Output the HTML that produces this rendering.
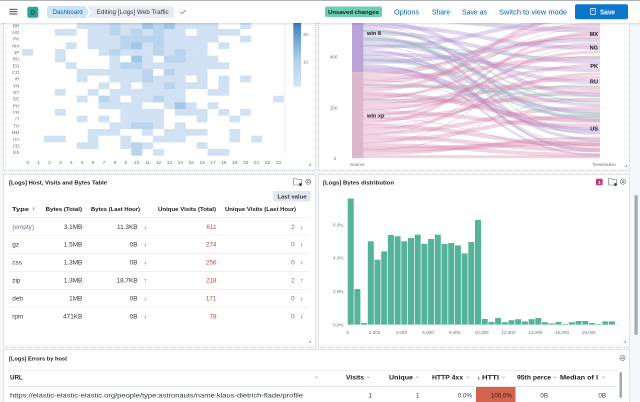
<!DOCTYPE html>
<html><head><meta charset="utf-8"><style>
html,body{margin:0;padding:0;background:#f5f7fa;}
svg{display:block;font-family:"Liberation Sans",sans-serif;}
</style></head><body>
<svg width="640" height="402" viewBox="0 0 640 402" xmlns="http://www.w3.org/2000/svg">
<defs>
<linearGradient id="leg" x1="0" y1="0" x2="0" y2="1">
<stop offset="0" stop-color="#2f70b2"/><stop offset="0.25" stop-color="#6a9fd0"/><stop offset="0.6" stop-color="#b3d0ea"/><stop offset="1" stop-color="#d4e5f4"/>
</linearGradient>
<linearGradient id="sh" x1="0" y1="0" x2="0" y2="1"><stop offset="0" stop-color="#000" stop-opacity="0.12"/><stop offset="1" stop-color="#000" stop-opacity="0"/></linearGradient>
<clipPath id="sk"><rect x="363" y="10" width="237" height="148.5"/></clipPath>
</defs>
<rect width="640" height="402" fill="#f5f7fa"/>
<!-- panels -->
<rect x="3.5" y="-5" width="312" height="175.5" fill="#fff" stroke="#c5cad3" stroke-dasharray="1,1"/>
<rect x="318.5" y="-5" width="311" height="175.5" fill="#fff" stroke="#c5cad3" stroke-dasharray="1,1"/>
<rect x="3.5" y="174.5" width="312" height="172.5" fill="#fff" stroke="#c5cad3" stroke-dasharray="1,1"/>
<rect x="318.5" y="174.5" width="311" height="172.5" fill="#fff" stroke="#c5cad3" stroke-dasharray="1,1"/>
<rect x="3.5" y="349.5" width="626" height="60" fill="#fff" stroke="#c5cad3" stroke-dasharray="1,1"/>

<!-- HEATMAP -->
<g fill="#cfe1f2">
<rect x="76.7" y="22.3" width="141.7" height="6.7"/><rect x="240.2" y="22.3" width="10.9" height="6.7"/>
<rect x="54.9" y="29" width="21.8" height="6.7"/><rect x="87.6" y="29" width="98.1" height="6.7"/><rect x="196.6" y="29" width="43.6" height="6.7"/>
<rect x="87.6" y="35.7" width="130.8" height="6.7"/><rect x="240.2" y="35.7" width="10.9" height="6.7"/>
<rect x="65.8" y="42.3" width="10.9" height="6.7"/><rect x="87.6" y="42.3" width="119.9" height="6.7"/><rect x="218.4" y="42.3" width="10.9" height="6.7"/>
<rect x="22.2" y="49" width="10.9" height="6.7"/><rect x="54.9" y="49" width="10.9" height="6.7"/><rect x="98.5" y="49" width="109" height="6.7"/>
<rect x="54.9" y="55.7" width="10.9" height="6.7"/><rect x="109.4" y="55.7" width="10.9" height="6.7"/><rect x="131.2" y="55.7" width="21.8" height="6.7"/><rect x="163.9" y="55.7" width="54.5" height="6.7"/>
<rect x="65.8" y="62.3" width="10.9" height="6.7"/><rect x="109.4" y="62.3" width="119.9" height="6.7"/>
<rect x="76.7" y="69" width="76.3" height="6.7"/><rect x="163.9" y="69" width="43.6" height="6.7"/>
<rect x="76.7" y="75.7" width="10.9" height="6.7"/><rect x="109.4" y="75.7" width="76.3" height="6.7"/><rect x="196.6" y="75.7" width="10.9" height="6.7"/><rect x="218.4" y="75.7" width="10.9" height="6.7"/><rect x="240.2" y="75.7" width="10.9" height="6.7"/>
<rect x="98.5" y="82.3" width="10.9" height="6.7"/><rect x="120.3" y="82.3" width="10.9" height="6.7"/><rect x="142.1" y="82.3" width="65.4" height="6.7"/><rect x="218.4" y="82.3" width="10.9" height="6.7"/>
<rect x="54.9" y="89" width="10.9" height="6.7"/><rect x="87.6" y="89" width="10.9" height="6.7"/><rect x="109.4" y="89" width="76.3" height="6.7"/><rect x="207.5" y="89" width="21.8" height="6.7"/>
<rect x="76.7" y="95.7" width="10.9" height="6.7"/><rect x="98.5" y="95.7" width="21.8" height="6.7"/><rect x="131.2" y="95.7" width="54.5" height="6.7"/><rect x="272.9" y="95.7" width="10.9" height="6.7"/>
<rect x="98.5" y="102.3" width="43.6" height="6.7"/><rect x="163.9" y="102.3" width="32.7" height="6.7"/><rect x="207.5" y="102.3" width="10.9" height="6.7"/>
<rect x="54.9" y="109" width="10.9" height="6.7"/><rect x="120.3" y="109" width="43.6" height="6.7"/><rect x="174.8" y="109" width="32.7" height="6.7"/><rect x="218.4" y="109" width="10.9" height="6.7"/><rect x="240.2" y="109" width="10.9" height="6.7"/>
<rect x="76.7" y="115.7" width="10.9" height="6.7"/><rect x="98.5" y="115.7" width="10.9" height="6.7"/><rect x="120.3" y="115.7" width="43.6" height="6.7"/><rect x="196.6" y="115.7" width="10.9" height="6.7"/><rect x="229.3" y="115.7" width="10.9" height="6.7"/>
<rect x="109.4" y="122.3" width="54.5" height="6.7"/><rect x="174.8" y="122.3" width="10.9" height="6.7"/>
<rect x="87.6" y="129" width="32.7" height="6.7"/><rect x="142.1" y="129" width="10.9" height="6.7"/><rect x="163.9" y="129" width="43.6" height="6.7"/><rect x="229.3" y="129" width="10.9" height="6.7"/>
<rect x="44" y="135.7" width="21.8" height="6.7"/><rect x="87.6" y="135.7" width="10.9" height="6.7"/><rect x="120.3" y="135.7" width="10.9" height="6.7"/><rect x="153" y="135.7" width="32.7" height="6.7"/><rect x="229.3" y="135.7" width="10.9" height="6.7"/><rect x="251.1" y="135.7" width="10.9" height="6.7"/>
<rect x="76.7" y="142.3" width="21.8" height="6.7"/><rect x="120.3" y="142.3" width="32.7" height="6.7"/><rect x="196.6" y="142.3" width="10.9" height="6.7"/>
<rect x="131.2" y="149" width="10.9" height="6.7"/><rect x="153" y="149" width="10.9" height="6.7"/><rect x="207.5" y="149" width="21.8" height="6.7"/>
</g>
<g fill="#bad4ed">
<rect x="109.4" y="22.3" width="10.9" height="6.7"/><rect x="153" y="22.3" width="10.9" height="6.7"/>
<rect x="109.4" y="29" width="10.9" height="6.7"/><rect x="131.2" y="29" width="10.9" height="6.7"/><rect x="153" y="29" width="10.9" height="6.7"/>
<rect x="120.3" y="35.7" width="43.6" height="6.7"/>
<rect x="120.3" y="42.3" width="10.9" height="6.7"/><rect x="153" y="42.3" width="10.9" height="6.7"/>
<rect x="109.4" y="49" width="10.9" height="6.7"/><rect x="153" y="49" width="10.9" height="6.7"/><rect x="174.8" y="49" width="10.9" height="6.7"/>
<rect x="163.9" y="55.7" width="21.8" height="6.7"/>
<rect x="120.3" y="62.3" width="21.8" height="6.7"/>
<rect x="142.1" y="69" width="10.9" height="6.7"/><rect x="163.9" y="69" width="10.9" height="6.7"/>
<rect x="142.1" y="75.7" width="10.9" height="6.7"/>
<rect x="163.9" y="82.3" width="10.9" height="6.7"/>
<rect x="98.5" y="95.7" width="10.9" height="6.7"/><rect x="153" y="95.7" width="10.9" height="6.7"/>
<rect x="131.2" y="122.3" width="21.8" height="6.7"/>
<rect x="131.2" y="142.3" width="10.9" height="6.7"/>
<rect x="131.2" y="149" width="10.9" height="6.7"/>
</g>
<g fill="#a2c6e6">
<rect x="142.1" y="22.3" width="10.9" height="6.7"/><rect x="163.9" y="22.3" width="10.9" height="6.7"/>
<rect x="131.2" y="42.3" width="10.9" height="6.7"/>
<rect x="131.2" y="55.7" width="10.9" height="6.7"/>
<rect x="174.8" y="102.3" width="10.9" height="6.7"/>
</g>
<line x1="284.3" y1="22" x2="284.3" y2="156" stroke="#e6e9ef" stroke-width="0.6"/>
<rect x="293.3" y="20" width="7.8" height="66.7" fill="url(#leg)"/>
<g font-size="4.6" fill="#6a717d">
<text x="303" y="35.8">20</text><text x="303" y="63.3">10</text>
</g>
<g font-size="4.8" fill="#6a717d" text-anchor="end">
<text x="19.5" y="27.3">BR</text><text x="19.5" y="34">NG</text><text x="19.5" y="40.7">PK</text><text x="19.5" y="47.3">MX</text><text x="19.5" y="54">JP</text><text x="19.5" y="60.7">RU</text><text x="19.5" y="67.3">EG</text><text x="19.5" y="74">CO</text><text x="19.5" y="80.7">IR</text><text x="19.5" y="87.3">VN</text><text x="19.5" y="94">ET</text><text x="19.5" y="100.7">DE</text><text x="19.5" y="107.3">PH</text><text x="19.5" y="114">FR</text><text x="19.5" y="120.7">IT</text><text x="19.5" y="127.3">TH</text><text x="19.5" y="134">MM</text><text x="19.5" y="140.7">UA</text><text x="19.5" y="147.3">CD</text><text x="19.5" y="154">ES</text>
</g>
<g font-size="4.8" fill="#6a717d" text-anchor="middle">
<text x="27.7" y="163.8">0</text><text x="38.6" y="163.8">1</text><text x="49.5" y="163.8">2</text><text x="60.4" y="163.8">3</text><text x="71.3" y="163.8">4</text><text x="82.2" y="163.8">5</text><text x="93.1" y="163.8">6</text><text x="104" y="163.8">7</text><text x="114.9" y="163.8">8</text><text x="125.8" y="163.8">9</text><text x="136.7" y="163.8">10</text><text x="147.6" y="163.8">11</text><text x="158.5" y="163.8">12</text><text x="169.4" y="163.8">13</text><text x="180.3" y="163.8">14</text><text x="191.2" y="163.8">15</text><text x="202.1" y="163.8">16</text><text x="213" y="163.8">17</text><text x="223.9" y="163.8">18</text><text x="234.8" y="163.8">19</text><text x="245.7" y="163.8">20</text><text x="256.6" y="163.8">21</text><text x="267.5" y="163.8">22</text><text x="278.4" y="163.8">23</text>
</g>
<path d="M308.5 165.5 L310.5 165.5 L310.5 163.5" stroke="#69707d" stroke-width="0.6" fill="none"/>

<!-- SANKEY -->
<g clip-path="url(#sk)" fill="none">
<g stroke="#a88fd2" stroke-opacity="0.36">
<path d="M363 17.5 C481 17.5 481 30 600 30" stroke-width="5"/>
<path d="M363 22 C481 22 481 95 600 95" stroke-width="4"/>
<path d="M363 26 C481 26 481 48 600 48" stroke-width="4"/>
<path d="M363 29.5 C481 29.5 481 120 600 120" stroke-width="3"/>
<path d="M363 33 C481 33 481 62 600 62" stroke-width="4"/>
<path d="M363 36.5 C481 36.5 481 140 600 140" stroke-width="3"/>
<path d="M363 40 C481 40 481 82 600 82" stroke-width="4"/>
<path d="M363 43.5 C481 43.5 481 105 600 105" stroke-width="3"/>
<path d="M363 47 C481 47 481 20 600 20" stroke-width="4"/>
<path d="M363 50.5 C481 50.5 481 150 600 150" stroke-width="3"/>
<path d="M363 54 C481 54 481 70 600 70" stroke-width="4"/>
<path d="M363 58 C481 58 481 112 600 112" stroke-width="4"/>
<path d="M363 62 C481 62 481 40 600 40" stroke-width="4"/>
<path d="M363 65 C481 65 481 155 600 155" stroke-width="2"/>
<path d="M363 69 C481 69 481 131 600 131" stroke-width="6" stroke-opacity="0.45"/>
</g>
<g stroke="#d888ae" stroke-opacity="0.36">
<path d="M363 74 C481 74 481 25 600 25" stroke-width="4"/>
<path d="M363 78 C481 78 481 58 600 58" stroke-width="4"/>
<path d="M363 82 C481 82 481 36 600 36" stroke-width="4"/>
<path d="M363 86 C481 86 481 88 600 88" stroke-width="4"/>
<path d="M363 90 C481 90 481 15 600 15" stroke-width="4"/>
<path d="M363 94 C481 94 481 121 600 121" stroke-width="4" stroke-opacity="0.45"/>
<path d="M363 97.5 C481 97.5 481 44 600 44" stroke-width="3"/>
<path d="M363 101 C481 101 481 100 600 100" stroke-width="4"/>
<path d="M363 104.5 C481 104.5 481 66 600 66" stroke-width="3"/>
<path d="M363 108 C481 108 481 78 600 78" stroke-width="4"/>
<path d="M363 112 C481 112 481 126 600 126" stroke-width="4"/>
<path d="M363 115.5 C481 115.5 481 52 600 52" stroke-width="3"/>
<path d="M363 119 C481 119 481 92 600 92" stroke-width="4"/>
<path d="M363 122.5 C481 122.5 481 33 600 33" stroke-width="3"/>
<path d="M363 126 C481 126 481 145 600 145" stroke-width="4"/>
<path d="M363 129.5 C481 129.5 481 74 600 74" stroke-width="3"/>
<path d="M363 133 C481 133 481 108 600 108" stroke-width="4"/>
<path d="M363 137 C481 137 481 150 600 150" stroke-width="4"/>
<path d="M363 141 C481 141 481 116 600 116" stroke-width="4"/>
<path d="M363 145 C481 145 481 155 600 155" stroke-width="4"/>
<path d="M363 149.5 C481 149.5 481 143 600 143" stroke-width="5" stroke-opacity="0.45"/>
<path d="M363 153.5 C481 153.5 481 138 600 138" stroke-width="3"/>
<path d="M363 156.5 C481 156.5 481 157 600 157" stroke-width="3"/>
</g>
<g stroke="#7fc2b4" stroke-opacity="0.34">
<path d="M363 39 C481 39 481 114 600 114" stroke-width="3"/>
<path d="M363 31 C481 31 481 102 600 102" stroke-width="2"/>
<path d="M363 85 C481 85 481 96 600 96" stroke-width="2"/>
<path d="M363 60 C481 60 481 117 600 117" stroke-width="3"/>
<path d="M363 100 C481 100 481 86 600 86" stroke-width="1.5"/>
<path d="M363 46 C481 46 481 58 600 58" stroke-width="1.5"/>
</g>
<g stroke="#c27fa2" stroke-opacity="0.45" stroke-width="0.6">
<path d="M363 25 C481 25 481 135 600 135"/>
<path d="M363 45 C481 45 481 152 600 152"/>
<path d="M363 80 C481 80 481 130 600 130"/>
<path d="M363 99 C481 99 481 28 600 28"/>
<path d="M363 110 C481 110 481 56 600 56"/>
<path d="M363 125 C481 125 481 84 600 84"/>
<path d="M363 135 C481 135 481 46 600 46"/>
<path d="M363 143 C481 143 481 64 600 64"/>
<path d="M363 150 C481 150 481 98 600 98"/>
<path d="M363 55 C481 55 481 146 600 146"/>
<path d="M363 70 C481 70 481 38 600 38"/>
<path d="M363 118 C481 118 481 148 600 148"/>
</g>
</g>
<rect x="352" y="10" width="11.3" height="62.3" fill="#b9a4d6"/>
<rect x="352" y="72.3" width="11.3" height="86" fill="#dcb6ca"/>
<g font-size="5.6" font-weight="bold" fill="#1a1c21">
<text x="367" y="35.2">win 8</text><text x="367" y="117.3">win xp</text>
</g>
<g font-size="5.6" font-weight="bold" fill="#1a1c21" text-anchor="end">
<text x="598" y="36">MX</text><text x="598" y="49.3">NG</text><text x="598" y="68">PK</text><text x="598" y="83.7">RU</text><text x="598" y="130.3">US</text>
</g>
<g font-size="4.6" fill="#6a717d">
<text x="337.5" y="58.3" text-anchor="end">400</text><text x="337.5" y="109.3" text-anchor="end">200</text><text x="336" y="160" text-anchor="end">0</text>
<text x="350" y="166">Source</text><text x="593" y="166">Destination</text>
</g>
<path d="M624.5 166.5 L626.5 166.5 L626.5 164.5" stroke="#69707d" stroke-width="0.6" fill="none"/>

<!-- TABLE PANEL -->
<text x="9" y="184.3" font-size="5.8" font-weight="bold" fill="#1a1c21" textLength="98" lengthAdjust="spacingAndGlyphs">[Logs] Host, Visits and Bytes Table</text>
<g fill="none" stroke="#69707d" stroke-width="0.6">
<path d="M293.5 178.5 h3 l1 1 h4 v5.5 h-8 z"/><circle cx="300.5" cy="184.5" r="1.3" fill="#343741"/>
<circle cx="308.3" cy="181.7" r="2.6"/><circle cx="308.3" cy="181.7" r="1"/>
</g>
<rect x="273" y="191" width="37.5" height="10.5" rx="2" fill="#e0e5ee"/>
<text x="277.5" y="198.3" font-size="5.4" font-weight="bold" fill="#343741" textLength="29" lengthAdjust="spacingAndGlyphs">Last value</text>
<g font-size="5.6" font-weight="bold" fill="#1a1c21">
<text x="12" y="211" textLength="17" lengthAdjust="spacingAndGlyphs">Type</text>
<text x="31.5" y="211" font-weight="normal" fill="#69707d" font-family="DejaVu Sans, sans-serif" font-size="5">↑</text>
<text x="45.7" y="211" textLength="36.3" lengthAdjust="spacingAndGlyphs">Bytes (Total)</text>
<text x="91" y="211" textLength="49" lengthAdjust="spacingAndGlyphs">Bytes (Last Hour)</text>
<text x="158" y="211" textLength="58" lengthAdjust="spacingAndGlyphs">Unique Visits (Total)</text>
<text x="225" y="211" textLength="71" lengthAdjust="spacingAndGlyphs">Unique Visits (Last Hour)</text>
</g>
<g stroke="#e3e8f2" stroke-width="0.7">
<line x1="9" y1="217.7" x2="309" y2="217.7"/><line x1="9" y1="235.3" x2="309" y2="235.3"/><line x1="9" y1="253.3" x2="309" y2="253.3"/><line x1="9" y1="271.3" x2="309" y2="271.3"/><line x1="9" y1="289.3" x2="309" y2="289.3"/><line x1="9" y1="307" x2="309" y2="307"/>
</g>
<g font-size="6.4" fill="#343741">
<text x="12.3" y="229" fill="#69707d">(empty)</text><text x="12.3" y="246.6">gz</text><text x="12.3" y="264.6">css</text><text x="12.3" y="282.6">zip</text><text x="12.3" y="300.3">deb</text><text x="12.3" y="318.3">rpm</text>
</g>
<g font-size="6.4" fill="#343741" text-anchor="end">
<text x="82.3" y="229">3.1MB</text><text x="82.3" y="246.6">1.5MB</text><text x="82.3" y="264.6">1.3MB</text><text x="82.3" y="282.6">1.3MB</text><text x="82.3" y="300.3">1MB</text><text x="82.3" y="318.3">471KB</text>
<text x="137.5" y="229">11.3KB</text><text x="137.5" y="246.6">0B</text><text x="137.5" y="264.6">0B</text><text x="137.5" y="282.6">18.7KB</text><text x="137.5" y="300.3">0B</text><text x="137.5" y="318.3">0B</text>
</g>
<g font-size="6.4" fill="#a9533f" text-anchor="end">
<text x="216.5" y="229">611</text><text x="216.5" y="246.6">274</text><text x="216.5" y="264.6">256</text><text x="216.5" y="282.6">218</text><text x="216.5" y="300.3">171</text><text x="216.5" y="318.3">78</text>
<text x="294.7" y="229">2</text><text x="294.7" y="246.6">0</text><text x="294.7" y="264.6">0</text><text x="294.7" y="282.6">2</text><text x="294.7" y="300.3">0</text><text x="294.7" y="318.3">0</text>
</g>
<g font-size="5" fill="#8a919c" font-family="DejaVu Sans, sans-serif">
<text x="143" y="229">↓</text><text x="143" y="246.6">↓</text><text x="143" y="264.6">↓</text><text x="143" y="282.6">↑</text><text x="143" y="300.3">↓</text><text x="143" y="318.3">↓</text>
<text x="299.5" y="229">↓</text><text x="299.5" y="246.6">↓</text><text x="299.5" y="264.6">↓</text><text x="299.5" y="282.6">↑</text><text x="299.5" y="300.3">↓</text><text x="299.5" y="318.3">↓</text>
</g>
<path d="M308.5 342.5 L310.5 342.5 L310.5 340.5" stroke="#69707d" stroke-width="0.6" fill="none"/>

<!-- HISTOGRAM PANEL -->
<text x="323" y="184.3" font-size="5.8" font-weight="bold" fill="#1a1c21" textLength="71" lengthAdjust="spacingAndGlyphs">[Logs] Bytes distribution</text>
<rect x="596" y="178.7" width="6.6" height="6.6" rx="1" fill="#c13a73"/>
<text x="599.3" y="184" font-size="4.8" font-weight="bold" fill="#fff" text-anchor="middle">1</text>
<g fill="none" stroke="#69707d" stroke-width="0.6">
<path d="M608.5 178.5 h3 l1 1 h4 v5.5 h-8 z"/><circle cx="615.5" cy="184.5" r="1.3" fill="#343741"/>
<circle cx="623" cy="181.7" r="2.6"/><circle cx="623" cy="181.7" r="1"/>
</g>
<rect x="634.5" y="195" width="3.2" height="140" rx="1.6" fill="#a2a9b5"/>
<g stroke="#eceff4" stroke-width="0.5" stroke-dasharray="1,3">
<line x1="401.3" y1="200" x2="401.3" y2="324"/><line x1="454.8" y1="200" x2="454.8" y2="324"/><line x1="535.2" y1="200" x2="535.2" y2="324"/><line x1="588.8" y1="200" x2="588.8" y2="324"/>
</g>
<g fill="#54b399">
<rect x="347.7" y="198.5" width="6" height="126.2"/>
<rect x="354.4" y="289" width="6" height="35.7"/>
<rect x="361.1" y="323" width="6" height="1.7"/>
<rect x="367.8" y="241.3" width="6" height="83.4"/>
<rect x="374.5" y="259.7" width="6" height="65"/>
<rect x="381.2" y="251.4" width="6" height="73.3"/>
<rect x="387.9" y="235" width="6" height="89.7"/>
<rect x="394.6" y="236.3" width="6" height="88.4"/>
<rect x="401.3" y="241.3" width="6" height="83.4"/>
<rect x="408" y="238" width="6" height="86.7"/>
<rect x="414.7" y="234.7" width="6" height="90"/>
<rect x="421.4" y="244" width="6" height="80.7"/>
<rect x="428.1" y="239" width="6" height="85.7"/>
<rect x="434.8" y="234.7" width="6" height="90"/>
<rect x="441.5" y="244" width="6" height="80.7"/>
<rect x="448.2" y="243" width="6" height="81.7"/>
<rect x="454.9" y="245.4" width="6" height="79.3"/>
<rect x="461.6" y="253.4" width="6" height="71.3"/>
<rect x="468.3" y="242" width="6" height="82.7"/>
<rect x="475" y="220" width="6" height="104.7"/>
<rect x="481.7" y="319" width="6" height="5.7"/>
<rect x="488.4" y="321.9" width="6" height="2.8"/>
<rect x="495.1" y="318" width="6" height="6.7"/>
<rect x="501.8" y="322.2" width="6" height="2.5"/>
<rect x="508.5" y="320.2" width="6" height="4.5"/>
<rect x="515.2" y="319.2" width="6" height="5.5"/>
<rect x="521.9" y="321.4" width="6" height="3.3"/>
<rect x="528.6" y="319.2" width="6" height="5.5"/>
<rect x="535.3" y="318" width="6" height="6.7"/>
<rect x="542" y="322.2" width="6" height="2.5"/>
<rect x="548.7" y="323.4" width="6" height="1.3"/>
<rect x="555.4" y="321.9" width="6" height="2.8"/>
<rect x="562.1" y="324" width="6" height="0.7"/>
<rect x="568.8" y="322.2" width="6" height="2.5"/>
<rect x="575.5" y="321" width="6" height="3.7"/>
<rect x="582.2" y="321" width="6" height="3.7"/>
<rect x="588.9" y="323" width="6" height="1.7"/>
<rect x="595.6" y="324" width="6" height="0.7"/>
<rect x="602.3" y="321.4" width="6" height="3.3"/>
<rect x="609" y="321.4" width="6" height="3.3"/>
</g>
<line x1="347" y1="325" x2="616" y2="325" stroke="#eef0f4" stroke-width="0.5"/>
<g font-size="4.6" fill="#6a717d" text-anchor="end">
<text x="343.5" y="226.3">6.0%</text><text x="343.5" y="259.7">4.0%</text><text x="343.5" y="293">2.0%</text><text x="343.5" y="326.3">0.0%</text>
</g>
<g font-size="4.6" fill="#6a717d" text-anchor="middle">
<text x="347.7" y="334">0</text><text x="374.5" y="334">2,000</text><text x="401.3" y="334">4,000</text><text x="428" y="334">6,000</text><text x="454.8" y="334">8,000</text><text x="481.6" y="334">10,000</text><text x="508.4" y="334">12,000</text><text x="535.2" y="334">14,000</text><text x="562" y="334">16,000</text><text x="588.8" y="334">18,000</text>
</g>
<path d="M623.5 342.5 L625.5 342.5 L625.5 340.5" stroke="#69707d" stroke-width="0.6" fill="none"/>

<!-- ERRORS PANEL -->
<text x="9" y="360.3" font-size="5.5" font-weight="bold" fill="#1a1c21" textLength="58" lengthAdjust="spacingAndGlyphs">[Logs] Errors by host</text>
<g fill="none" stroke="#69707d" stroke-width="0.6"><circle cx="622.5" cy="358" r="2.6"/><circle cx="622.5" cy="358" r="1"/></g>
<line x1="8" y1="370.5" x2="617" y2="370.5" stroke="#e3e8f2" stroke-width="0.7"/>
<line x1="8" y1="386.5" x2="617" y2="386.5" stroke="#d3dae6" stroke-width="0.7"/>
<g font-size="6.2" font-weight="bold" fill="#1a1c21">
<text x="10" y="379.5">URL</text>
<text x="346" y="379.5" textLength="18" lengthAdjust="spacingAndGlyphs">Visits</text>
<text x="389" y="379.5" textLength="24" lengthAdjust="spacingAndGlyphs">Unique</text>
<text x="432" y="379.5" textLength="31" lengthAdjust="spacingAndGlyphs">HTTP 4xx</text>
<text x="482" y="379.5" textLength="17" lengthAdjust="spacingAndGlyphs">HTTI</text>
<text x="517" y="379.5" textLength="34" lengthAdjust="spacingAndGlyphs">95th perce</text>
<text x="560" y="379.5" textLength="38" lengthAdjust="spacingAndGlyphs">Median of l</text>
</g>
<text x="476.5" y="379.5" font-size="5" fill="#343741" font-family="DejaVu Sans, sans-serif">↓</text>
<g fill="none" stroke="#69707d" stroke-width="0.5">
<path d="M315 376.5 l1.5 1.5 l1.5 -1.5"/><path d="M367 376.5 l1.5 1.5 l1.5 -1.5"/><path d="M416 376.5 l1.5 1.5 l1.5 -1.5"/><path d="M466 376.5 l1.5 1.5 l1.5 -1.5"/><path d="M502 376.5 l1.5 1.5 l1.5 -1.5"/><path d="M553.5 376.5 l1.5 1.5 l1.5 -1.5"/><path d="M602 376.5 l1.5 1.5 l1.5 -1.5"/>
</g>
<rect x="476" y="387" width="39.5" height="15" fill="#d4644e"/>
<g font-size="6.2" fill="#343741">
<text x="10" y="397.7" textLength="293" lengthAdjust="spacingAndGlyphs">https://elastic-elastic-elastic.org/people/type:astronauts/name:klaus-dietrich-flade/profile</text>
</g>
<g font-size="6.2" fill="#343741" text-anchor="end">
<text x="372" y="397.7">1</text><text x="419.5" y="397.7">1</text><text x="472" y="397.7">0.0%</text><text x="512" y="397.7" fill="#1a1c21">100.0%</text><text x="548" y="397.7">0B</text><text x="606" y="397.7">0B</text>
</g>
<rect x="619.5" y="372" width="2.5" height="26" rx="1.2" fill="#a2a9b5"/>

<!-- HEADER -->
<rect x="0" y="0" width="640" height="23" fill="#fff"/>
<rect x="0" y="23" width="640" height="2.5" fill="url(#sh)"/>
<rect x="0" y="0" width="640" height="0.8" fill="#9a9ea6"/>
<g stroke="#343741" stroke-width="0.9">
<line x1="9.3" y1="9.3" x2="17.3" y2="9.3"/><line x1="9.3" y1="11.7" x2="17.3" y2="11.7"/><line x1="9.3" y1="14" x2="17.3" y2="14"/>
</g>
<rect x="27.3" y="6.7" width="11" height="11" rx="2" fill="#25a896"/>
<text x="32.8" y="14.3" font-size="6" fill="#1a1c21" text-anchor="middle">D</text>
<path d="M49 6 H85 L89 12 L85 18 H49 Q47 18 47 16 V8 Q47 6 49 6 Z" fill="#cce4f5"/>
<path d="M87 6 H172 Q174 6 174 8 V16 Q174 18 172 18 H87 L91 12 Z" fill="#e9edf3"/>
<text x="52.7" y="14.2" font-size="6.3" fill="#0061a6" textLength="30" lengthAdjust="spacingAndGlyphs">Dashboard</text>
<text x="96.7" y="14.2" font-size="6.3" fill="#343741" textLength="72" lengthAdjust="spacingAndGlyphs">Editing [Logs] Web Traffic</text>
<path d="M180.5 11.8 L182.3 13.6 L185.8 10" stroke="#69707d" stroke-width="0.7" fill="none"/>
<rect x="325" y="6.5" width="57" height="10.5" rx="2" fill="#6dccb1"/>
<text x="328" y="13.9" font-size="5.8" font-weight="bold" fill="#1a1c21" textLength="51" lengthAdjust="spacingAndGlyphs">Unsaved changes</text>
<g font-size="7.2" fill="#0061a6">
<text x="394" y="14.3" textLength="25" lengthAdjust="spacingAndGlyphs">Options</text>
<text x="432" y="14.3" textLength="18" lengthAdjust="spacingAndGlyphs">Share</text>
<text x="462" y="14.3" textLength="25" lengthAdjust="spacingAndGlyphs">Save as</text>
<text x="499" y="14.3" textLength="68" lengthAdjust="spacingAndGlyphs">Switch to view mode</text>
</g>
<rect x="575" y="4.3" width="53" height="15" rx="2" fill="#0b77cc"/>
<rect x="590.5" y="8.5" width="5" height="6" rx="0.6" fill="none" stroke="#fff" stroke-width="0.7"/>
<line x1="592" y1="10.5" x2="594" y2="10.5" stroke="#fff" stroke-width="0.6"/>
<text x="600" y="14.3" font-size="7" font-weight="bold" fill="#fff" textLength="15" lengthAdjust="spacingAndGlyphs">Save</text>
</svg>
</body></html>
